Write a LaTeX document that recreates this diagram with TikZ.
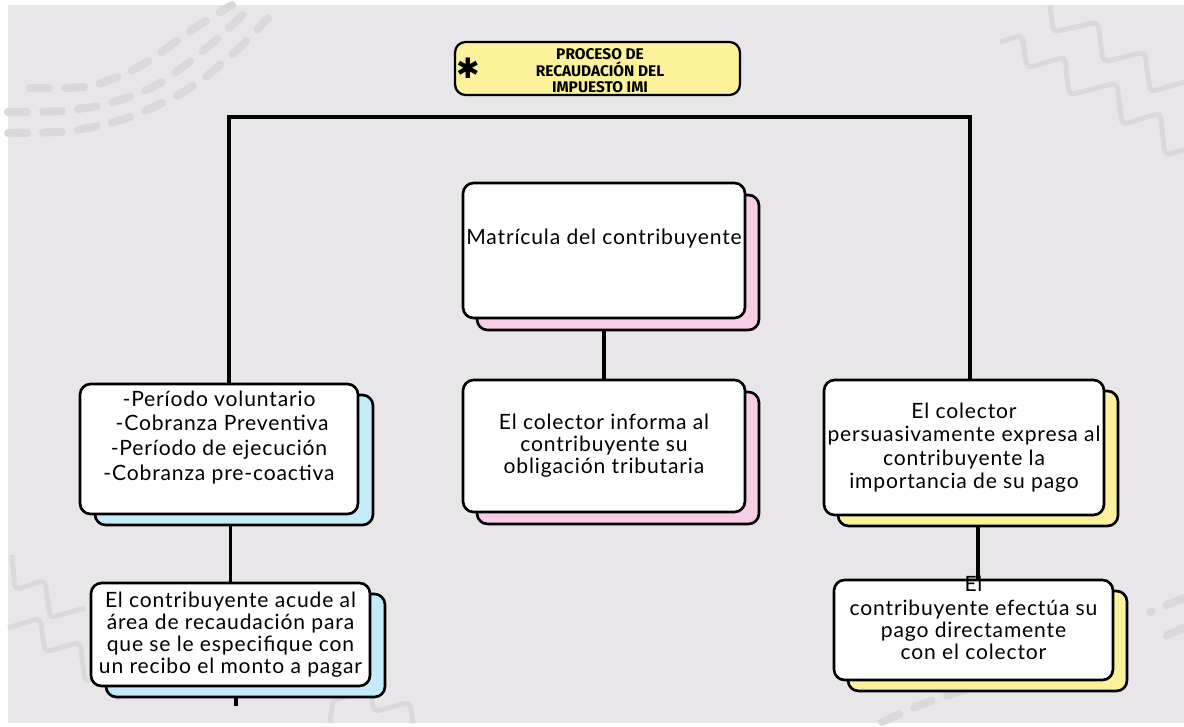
\documentclass[tikz,border=0pt]{standalone}
\usepackage{fontspec}
\setmainfont{Lato}[LetterSpace=4]
\newfontfamily\titlefont{Fira Sans}
\newfontfamily\symfont{DejaVu Sans}
\usetikzlibrary{shadows}
\pgfdeclarelayer{background}
\pgfsetlayers{background,main}
\definecolor{bggray}{HTML}{E8E6E8}
\definecolor{decogray}{HTML}{DAD8DA}
\definecolor{titleyellow}{HTML}{FCF29A}
\definecolor{shadeblue}{HTML}{C3EBF8}
\definecolor{shadepink}{HTML}{F6CCE7}
\definecolor{shadeyellow}{HTML}{FBF09C}
\begin{document}
\begin{tikzpicture}[x=0.02cm,y=-0.02cm,
    card/.style={draw=black,line width=1.5pt,rounded corners=6pt,fill=white,
      align=center,inner sep=1pt,font=\fontsize{12}{12.6}\selectfont},
    blueshade/.style={copy shadow={shadow xshift=0.3cm,shadow yshift=-0.22cm,
      fill=shadeblue,draw=black,line width=1.5pt}},
    pinkshade/.style={copy shadow={shadow xshift=0.28cm,shadow yshift=-0.24cm,
      fill=shadepink,draw=black,line width=1.5pt}},
    yellowshade/.style={copy shadow={shadow xshift=0.28cm,shadow yshift=-0.22cm,
      fill=shadeyellow,draw=black,line width=1.5pt}},
    link/.style={line width=1.8pt},
    zigzag/.style={draw=decogray,line width=0.1cm,rounded corners=3pt},
    dashrow/.style={draw=decogray,line width=0.16cm,line cap=round,
      dash pattern=on 0.38cm off 0.32cm}]
    \useasboundingbox (0,0) rectangle (1184,727);

    % Background and decorations
    \begin{pgfonlayer}{background}
    \fill[white] (0,0) rectangle (1184,727);
    \fill[bggray] (8,5) rectangle (1184,723);
    \draw[dashrow] plot[smooth] coordinates {(30,88) (90,86) (140,66) (195,28) (232,5)};
    \draw[dashrow] plot[smooth] coordinates {(8,112) (60,111) (110,103) (160,83) (210,45) (250,8)};
    \draw[dashrow] plot[smooth] coordinates {(8,133) (70,131) (130,117) (190,88) (235,52) (268,18)};
    \draw[zigzag] (1000,42) -- (1022,35) -- (1027,68) -- (1065,57) -- (1069,95) -- (1117,83)
      -- (1122,125) -- (1160,113) -- (1165,155) -- (1184,150);
    \draw[zigzag] (1050,5) -- (1053,32) -- (1098,22) -- (1103,62) -- (1145,52) -- (1150,92)
      -- (1184,82);
    \draw[zigzag] (12,555) -- (15,590) -- (45,580) -- (50,618) -- (85,608);
    \draw[zigzag] (8,628) -- (40,618) -- (45,652) -- (80,642) -- (85,682) -- (115,672)
      -- (118,700);
    \draw[zigzag] (330,723) -- (333,700) -- (370,690) -- (374,712) -- (410,702) -- (413,723);
    \draw[dashrow] (1184,598) -- (1150,612);
    \draw[dashrow] (1184,628) -- (1160,638);
    \draw[dashrow] plot[smooth] coordinates {(965,690) (920,705) (880,723)};
    \end{pgfonlayer}

    % Title
    \node[draw=black,line width=1.3pt,rounded corners=6pt,fill=titleyellow,
      minimum width=5.7cm,minimum height=1.06cm,inner sep=0pt] (title) at (597.5,68.5) {};
    \node[font=\titlefont\bfseries\fontsize{8.8}{9.4}\selectfont,align=center,inner sep=0pt]
      (titletext) at (600,71) {PROCESO DE\\RECAUDACIÓN DEL\\IMPUESTO IMI};
    \node[font=\symfont\fontsize{16}{16}\selectfont,inner sep=0pt] (star) at (468,68) {✱};

    % Left branch
    \node[card,blueshade,minimum width=5.56cm,minimum height=2.6cm,
      font=\fontsize{12}{14}\selectfont] (la) at (219,449)
      {-Período voluntario\\
       \ -Cobranza Preventiva\\
       -Período de ejecución\\
       -Cobranza pre-coactiva\\[0.05cm]};
    \node[card,blueshade,minimum width=5.58cm,minimum height=2.06cm] (lb) at (230.5,634.5)
      {El contribuyente acude al\\área de recaudación para\\que se le especifique con\\un recibo el monto a pagar};

    % Center branch
    \node[card,pinkshade,minimum width=5.64cm,minimum height=2.7cm] (ca) at (604,250.5)
      {Matrícula del contribuyente\\[0.1cm]};
    \node[card,pinkshade,minimum width=5.64cm,minimum height=2.64cm] (cb) at (604,446)
      {El colector informa al\\contribuyente su\\obligación tributaria};

    % Right branch
    \node[card,yellowshade,minimum width=5.6cm,minimum height=2.7cm,
      font=\fontsize{12}{13.4}\selectfont] (ra) at (964,447.5)
      {El colector\\persuasivamente expresa al\\contribuyente la\\importancia de su pago};
    \node[card,yellowshade,minimum width=5.58cm,minimum height=2.0cm,
      label={[name=rbfirst,anchor=center,inner sep=0pt,yshift=-3pt,
        font=\fontsize{12}{12.6}\selectfont]north:El}] (rb) at (973.5,630)
      {contribuyente efectúa su\\pago directamente\\con el colector};

    % Connections
    \coordinate (tl) at (229,117);
    \coordinate (tr) at (970,117);
    \coordinate (lbend) at (236,706);
    \begin{pgfonlayer}{background}
    \draw[link] (la.north -| tl) -- (tl) -- (tr) -- (ra.north -| tr);
    \draw[link] (la.south -| lb.north) -- (lb.north);
    \draw[link] (ca.south) -- (cb.north);
    \draw[link] ([xshift=0.09cm]ra.south -| rb.north) -- ([xshift=0.09cm]rb.north);
    \draw[link] (lb.south -| lbend) -- (lbend);
    \end{pgfonlayer}
\end{tikzpicture}
\end{document}
